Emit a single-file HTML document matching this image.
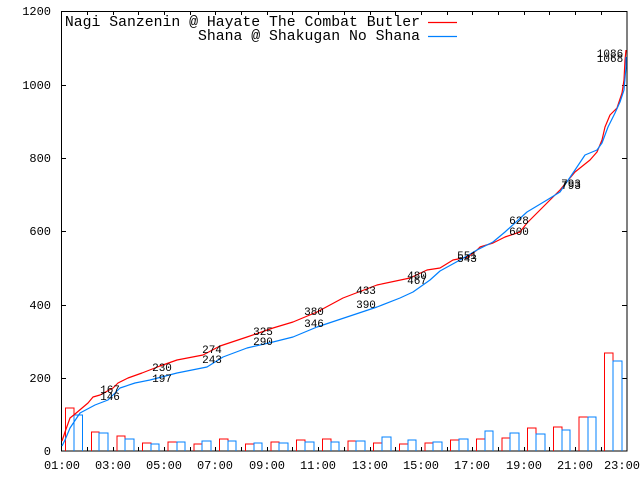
<!DOCTYPE html>
<html><head><style>body{margin:0;background:#fff}svg{display:block}text{font-family:"Liberation Mono",monospace}</style></head><body>
<svg width="640" height="480" xmlns="http://www.w3.org/2000/svg">
<rect width="640" height="480" fill="#fff"/>
<g stroke="#000" stroke-width="1" fill="none" shape-rendering="crispEdges">
<rect x="61.5" y="11.5" width="565.5" height="439.5"/>
<path d="M61 378.5h5M61 305.5h5M61 231.5h5M61 158.5h5M61 85.5h5M627 378.5h-5M627 305.5h-5M627 231.5h-5M627 158.5h-5M627 85.5h-5"/>
<path d="M87.5 451v-4M113.5 451v-4M138.5 451v-4M164.5 451v-4M190.5 451v-4M215.5 451v-4M241.5 451v-4M267.5 451v-4M292.5 451v-4M318.5 451v-4M344.5 451v-4M370.5 451v-4M395.5 451v-4M421.5 451v-4M447.5 451v-4M472.5 451v-4M498.5 451v-4M524.5 451v-4M549.5 451v-4M575.5 451v-4M601.5 451v-4"/>
<path d="M87.5 11v4M113.5 11v4M138.5 11v4M164.5 11v4M190.5 11v4M215.5 11v4M241.5 11v4M267.5 11v4M292.5 11v4M318.5 11v4M344.5 11v4M370.5 11v4M395.5 11v4M421.5 11v4M447.5 11v4M472.5 11v4M498.5 11v4M524.5 11v4M549.5 11v4M575.5 11v4M601.5 11v4"/>
</g>
<g font-size="12" fill="#000" text-anchor="end">
<text x="51" y="455">0</text><text x="51" y="382">200</text><text x="51" y="309">400</text><text x="51" y="235">600</text><text x="51" y="162">800</text><text x="51" y="89">1000</text><text x="51" y="15">1200</text>
</g>
<g font-size="12" fill="#000" text-anchor="middle">
<text x="62" y="469">01:00</text><text x="113" y="469">03:00</text><text x="164" y="469">05:00</text><text x="215" y="469">07:00</text><text x="267" y="469">09:00</text><text x="318" y="469">11:00</text><text x="370" y="469">13:00</text><text x="421" y="469">15:00</text><text x="472" y="469">17:00</text><text x="524" y="469">19:00</text><text x="575" y="469">21:00</text><text x="622" y="469">23:00</text>
</g>
<g fill="none" stroke-width="1.2" shape-rendering="crispEdges">
<path stroke="#f00" d="M65.5 451V408H74V451M91.5 451V432H99V451M117 451V436H125V451M142.5 451V443H151V451M168 451V442H177V451M194 451V444H202V451M219.5 451V439H228V451M245.5 451V444H254V451M271 451V442H279V451M296.5 451V440H305V451M322.5 451V439H331V451M348 451V441H356V451M373.5 451V443H382V451M399.5 451V444H408V451M425 451V443H433V451M450.5 451V440H459V451M476.5 451V439H485V451M502 451V438H510V451M527.5 451V428H536V451M553.5 451V427H562V451M579 451V417H588V451M604.5 451V353H613V451"/>
<path stroke="#0080ff" d="M74 451V415H82.5V451M99 451V433H108V451M125 451V439H134V451M151 451V444H159V451M177 451V442H185V451M202 451V441H211V451M228 451V441H236V451M254 451V443H262V451M279 451V443H288V451M305 451V442H314V451M331 451V442H339V451M356 451V441H365V451M382 451V437H391V451M408 451V440H416V451M433 451V442H442V451M459 451V439H468V451M485 451V431H493V451M510 451V433H519V451M536 451V434H545V451M562 451V430H570V451M588 451V417H596V451M613 451V361H622V451"/>
</g>
<g fill="none" stroke-width="1.2" stroke-linejoin="round">
<polyline stroke="#f00" points="62,441 65,432 70,418 75,414 88,403 93,397 100,395 113,388 118,383 128,378 142,373 160,366 177,360 203,355 220,346 247,337 273,328 293,322 317,312 343,298 377,285 410,278 427,270 440,268 453,260 468,257 477,250 480,247 493,243 505,237 520,232 527,223 545,205 560,190 575,172 590,160 597,152 602,140 605,127 610,115 617,108 622,93 624,80 625,60 626,50"/>
<polyline stroke="#0080ff" points="62,446 65,440 70,428 80,413 95,405 108,400 113,395 120,388 135,383 150,380 177,373 207,367 223,357 247,348 273,342 293,337 317,327 347,317 377,307 400,298 413,292 430,280 440,271 460,260 477,250 493,242 505,232 527,212 547,200 560,192 575,170 585,155 597,150 602,143 608,127 615,113 620,102 624,90 626,67 626,57"/>
</g>
<g font-size="11" fill="#000" text-anchor="middle">
<text x="110" y="393">167</text><text x="162" y="371">230</text><text x="212" y="353">274</text><text x="263" y="335">325</text><text x="314" y="315">380</text><text x="366" y="294">433</text><text x="417" y="279">480</text><text x="467" y="259">551</text><text x="519" y="235">600</text><text x="571" y="187">793</text><text x="610" y="57">1086</text>
<text x="110" y="400">146</text><text x="162" y="382">197</text><text x="212" y="363">243</text><text x="263" y="345">290</text><text x="314" y="327">346</text><text x="366" y="308">390</text><text x="417" y="284">467</text><text x="467" y="262">543</text><text x="519" y="224">628</text><text x="571" y="189">793</text><text x="610" y="62">1068</text>
</g>
<g font-size="14.8" fill="#000" text-anchor="end">
<text x="420" y="26">Nagi Sanzenin @ Hayate The Combat Butler</text>
<text x="420" y="40">Shana @ Shakugan No Shana</text>
</g>
<path d="M428 22.5h29" stroke="#f00" stroke-width="1.2"/>
<path d="M428 36.5h29" stroke="#0080ff" stroke-width="1.2"/>
</svg>
</body></html>
